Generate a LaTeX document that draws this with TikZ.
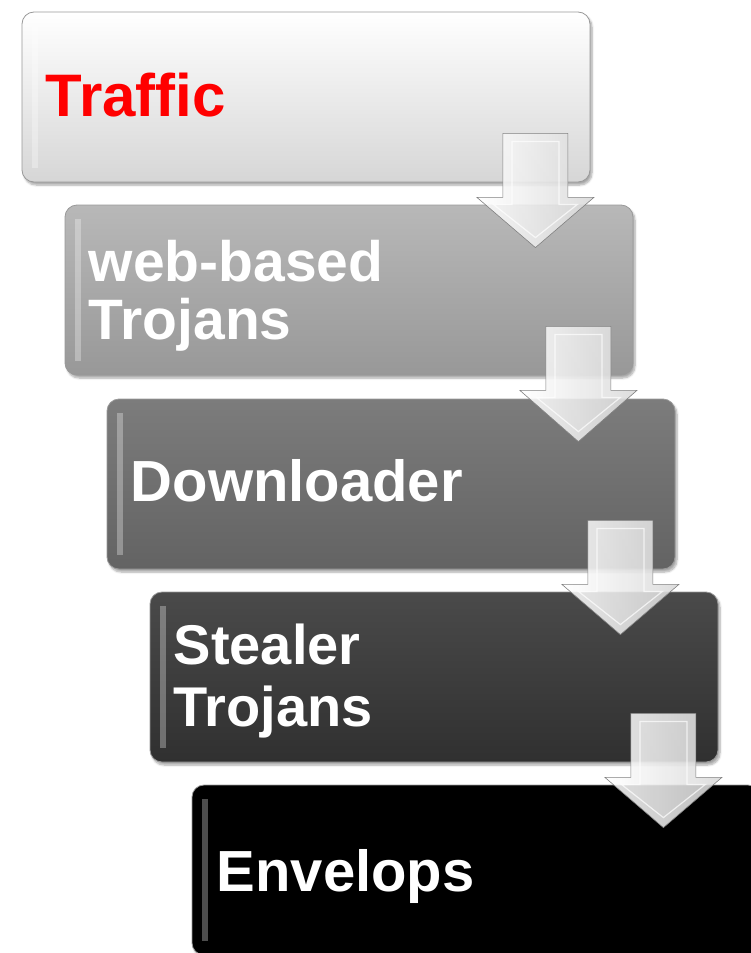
\documentclass[tikz,border=0pt]{standalone}
\usepackage{fontspec}
\setmainfont{Liberation Sans}
\usepackage{tikz}
\usetikzlibrary{calc}
\usetikzlibrary{shadows.blur}

\definecolor{boxAtop}{HTML}{FFFFFF}
\definecolor{boxAbot}{HTML}{D6D6D6}
\definecolor{boxBtop}{HTML}{B8B8B8}
\definecolor{boxBbot}{HTML}{989898}
\definecolor{boxCtop}{HTML}{7C7C7C}
\definecolor{boxCbot}{HTML}{636363}
\definecolor{boxDtop}{HTML}{4A4A4A}
\definecolor{boxDbot}{HTML}{303030}

\begin{document}
\begin{tikzpicture}[x=1pt,y=-1pt,
  box/.style={rounded corners=12pt,minimum width=568pt,minimum height=170pt,
    inner sep=0pt,draw=black!40,line width=0.8pt,
    blur shadow={shadow xshift=2pt,shadow yshift=-3pt,shadow blur steps=6,shadow opacity=35}},
  boxtext/.style={anchor=base west,inner sep=0pt,align=left,white},
  flowarrow/.style={draw=black!50,line width=0.6pt,left color=white,right color=black!15,fill opacity=0.88},
  arrowbevel/.style={draw=white,line width=1.2pt,opacity=0.7}]

\useasboundingbox (0,0) rectangle (751,953);

% --- Riquadri
\node[box,top color=boxAtop,bottom color=boxAbot] (b1) at (306,97) {};
\node[box,top color=boxBtop,bottom color=boxBbot] (b2) at (349,290) {};
\node[box,top color=boxCtop,bottom color=boxCbot] (b3) at (391,484) {};
\node[box,top color=boxDtop,bottom color=boxDbot] (b4) at (434,677) {};
\node[box,fill=black] (b5) at (476,870) {};

% --- Riflesso sul bordo sinistro
\foreach \bx in {b1,b2,b3,b4,b5}{
  \fill[white,opacity=0.3] ($(\bx.north west)+(10,14)$) rectangle ($(\bx.north west)+(16,156)$);
}

% --- Testi
\node[boxtext,red,font=\fontsize{60}{62}\selectfont\bfseries] (t1) at ($(b1.north west)+(24,105)$) {Traffic};
\node[boxtext,font=\fontsize{57}{58}\selectfont\bfseries] (t2) at ($(b2.north west)+(24,135)$) {web-based\\Trojans};
\node[boxtext,font=\fontsize{58}{60}\selectfont\bfseries] (t3) at ($(b3.north west)+(24,103)$) {Downloader};
\node[boxtext,font=\fontsize{56}{62}\selectfont\bfseries] (t4) at ($(b4.north west)+(24,135)$) {Stealer\\Trojans};
\node[boxtext,font=\fontsize{58}{62}\selectfont\bfseries] (t5) at ($(b5.north west)+(25,107)$) {Envelops};

% --- Frecce tra i riquadri
\foreach \src/\dst in {b1/b2,b2/b3,b3/b4,b4/b5}{
  \path[flowarrow] let \p1=(\src.south east), \p2=(\dst.north) in
    (\x1-87.5pt,\y1+49pt) -- (\x1-22.5pt,\y1+49pt) -- (\x1-22.5pt,\y1-15pt)
    -- (\x1+3.5pt,\y1-15pt) -- (\x1-55pt,\y2-43pt) -- (\x1-113.5pt,\y1-15pt)
    -- (\x1-87.5pt,\y1-15pt) -- cycle;
  \path[arrowbevel] let \p1=(\src.south east), \p2=(\dst.north) in
    (\x1-78.5pt,\y1+41pt) -- (\x1-31.5pt,\y1+41pt) -- (\x1-31.5pt,\y1-22pt)
    -- (\x1-13pt,\y1-22pt) -- (\x1-55pt,\y2-33pt) -- (\x1-97pt,\y1-22pt)
    -- (\x1-78.5pt,\y1-22pt) -- cycle;
}

\end{tikzpicture}
\end{document}
